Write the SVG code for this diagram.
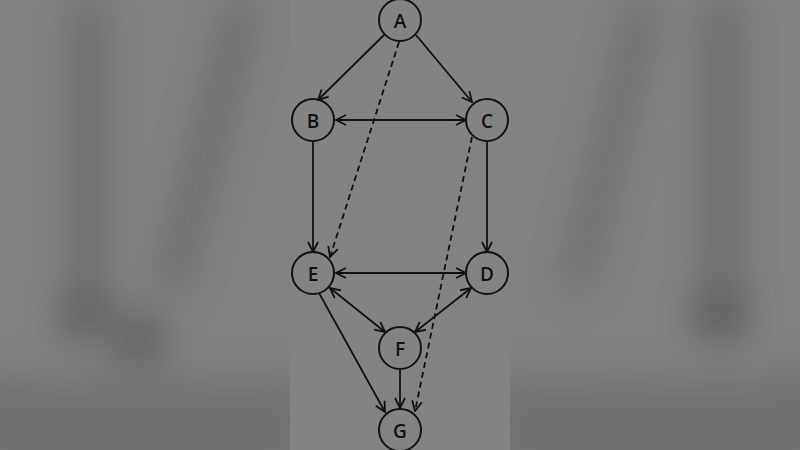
<svg xmlns="http://www.w3.org/2000/svg" width="800" height="450" viewBox="0 0 800 450">
<defs>
<filter id="blur" x="-20%" y="-20%" width="140%" height="140%"><feGaussianBlur stdDeviation="20"/></filter>
<marker id="arr" viewBox="0 0 12 12" refX="11" refY="6" markerWidth="12" markerHeight="12" markerUnits="userSpaceOnUse" orient="auto-start-reverse">
<path d="M1,1 L11,6 L1,11" fill="none" stroke="#111" stroke-width="1.8"/>
</marker>
<style>
.node circle{fill:none;stroke:#111;stroke-width:2}
.node text{font-family:"Open Sans","Liberation Sans",sans-serif;font-size:19px;font-weight:600;fill:#111;text-anchor:middle;dominant-baseline:central}
.edge{stroke:#111;stroke-width:1.8;fill:none}
.dash{stroke-dasharray:6,4}
.bg{stroke:#585858;fill:none}
</style>
</defs>
<rect width="800" height="450" fill="#828282"/>
<g id="background" filter="url(#blur)" opacity="0.75">
<line class="bg" x1="88" y1="0" x2="88" y2="290" stroke-width="24"/>
<line class="bg" x1="245" y1="0" x2="170" y2="290" stroke-width="22"/>
<line class="bg" x1="722" y1="0" x2="722" y2="290" stroke-width="26"/>
<line class="bg" x1="645" y1="0" x2="575" y2="290" stroke-width="20"/>
<circle cx="85" cy="315" r="24" fill="#4a4a4a"/>
<circle cx="140" cy="340" r="24" fill="#4a4a4a"/>
<circle cx="10" cy="405" r="28" fill="#4a4a4a"/>
<circle cx="80" cy="410" r="24" fill="#555"/>
<circle cx="180" cy="405" r="26" fill="#4a4a4a"/>
<circle cx="720" cy="315" r="26" fill="#4a4a4a"/>
<circle cx="623" cy="405" r="26" fill="#4a4a4a"/>
<circle cx="717" cy="410" r="26" fill="#4a4a4a"/>
<circle cx="800" cy="400" r="28" fill="#454545"/>
<rect x="-40" y="380" width="350" height="100" fill="#6a6a6a" stroke="none"/>
<rect x="490" y="380" width="350" height="100" fill="#6a6a6a" stroke="none"/>
</g>
<rect x="290" y="0" width="220" height="450" fill="#838383"/>
<g id="connectors">
<line class="edge" x1="384" y1="35" x2="318" y2="100" marker-end="url(#arr)"/>
<line class="edge" x1="416" y1="35" x2="472" y2="102" marker-end="url(#arr)"/>
<line class="edge dash" x1="399" y1="42" x2="330" y2="257" marker-end="url(#arr)"/>
<line class="edge" x1="336" y1="120" x2="466" y2="120" marker-start="url(#arr)" marker-end="url(#arr)"/>
<line class="edge" x1="313" y1="141" x2="313" y2="252" marker-end="url(#arr)"/>
<line class="edge" x1="487" y1="141" x2="487" y2="252" marker-end="url(#arr)"/>
<line class="edge dash" x1="472" y1="137" x2="415" y2="411" marker-end="url(#arr)"/>
<line class="edge" x1="336" y1="273" x2="466" y2="273" marker-start="url(#arr)" marker-end="url(#arr)"/>
<line class="edge" x1="330" y1="288" x2="385" y2="332" marker-start="url(#arr)" marker-end="url(#arr)"/>
<line class="edge" x1="471" y1="288" x2="415" y2="332" marker-start="url(#arr)" marker-end="url(#arr)"/>
<line class="edge" x1="319" y1="293" x2="385" y2="412" marker-end="url(#arr)"/>
<line class="edge" x1="400" y1="369" x2="400" y2="408" marker-end="url(#arr)"/>
</g>
<g id="node-A" class="node"><circle cx="400" cy="20" r="21"/><text x="400" y="21">A</text></g>
<g id="node-B" class="node"><circle cx="313" cy="120" r="21"/><text x="313" y="121">B</text></g>
<g id="node-C" class="node"><circle cx="487" cy="120" r="21"/><text x="487" y="121">C</text></g>
<g id="node-E" class="node"><circle cx="313" cy="273" r="21"/><text x="313" y="274">E</text></g>
<g id="node-D" class="node"><circle cx="487" cy="273" r="21"/><text x="487" y="274">D</text></g>
<g id="node-F" class="node"><circle cx="400" cy="348" r="21"/><text x="400" y="349">F</text></g>
<g id="node-G" class="node"><circle cx="400" cy="430" r="21"/><text x="400" y="431">G</text></g>
</svg>
